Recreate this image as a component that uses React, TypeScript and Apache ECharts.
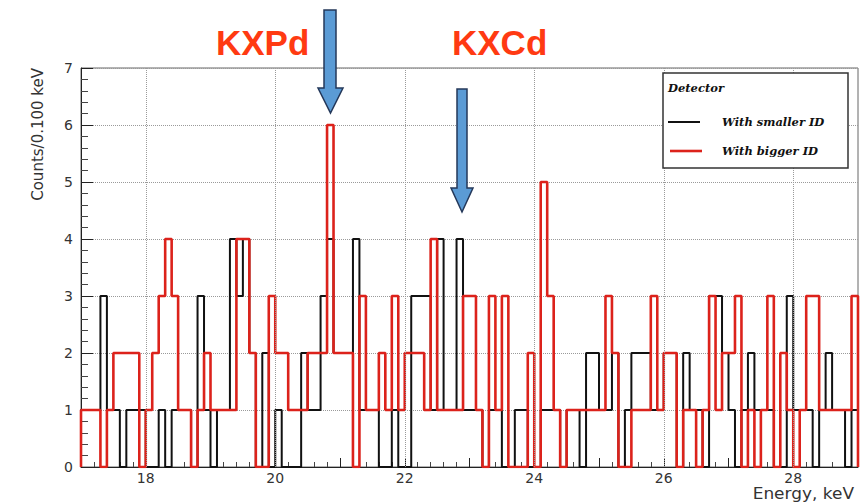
import React, { useEffect, useRef } from "react";
import * as echarts from "echarts";

// Histogram binning (keV)
const binStart = 17.0;
const binWidth = 0.1;

// Counts per 0.1 keV bin, detector with smaller ID (black)
const smallerIdCounts = [
  1, 1, 1, 3, 1, 1, 0, 1, 1, 1,
  0, 0, 1, 0, 1, 1, 1, 0, 3, 1,
  0, 1, 1, 4, 3, 4, 2, 0, 2, 0,
  1, 0, 0, 0, 2, 1, 1, 3, 4, 2,
  2, 2, 4, 1, 1, 1, 0, 0, 1, 0,
  0, 3, 3, 3, 1, 4, 1, 1, 4, 1,
  1, 1, 0, 1, 1, 0, 0, 1, 1, 0,
  0, 1, 1, 1, 0, 1, 1, 0, 2, 2,
  1, 1, 2, 0, 1, 2, 2, 2, 1, 1,
  2, 2, 0, 2, 1, 1, 0, 3, 3, 2,
  1, 0, 1, 2, 1, 1, 1, 0, 0, 3,
  1, 1, 1, 0, 1, 2, 1, 1, 0, 1,
];

// Counts per 0.1 keV bin, detector with bigger ID (red)
const biggerIdCounts = [
  1, 1, 1, 0, 1, 2, 2, 2, 2, 0,
  1, 2, 3, 4, 3, 1, 1, 0, 1, 2,
  1, 1, 1, 1, 4, 4, 2, 0, 0, 3,
  2, 2, 1, 1, 1, 2, 2, 2, 6, 2,
  2, 2, 0, 3, 1, 1, 2, 1, 3, 1,
  2, 2, 2, 1, 4, 1, 1, 1, 1, 3,
  3, 1, 0, 3, 1, 3, 0, 0, 0, 2,
  0, 5, 3, 1, 0, 1, 1, 1, 1, 1,
  1, 3, 2, 0, 0, 1, 1, 1, 3, 1,
  2, 2, 0, 1, 1, 0, 1, 3, 1, 2,
  2, 3, 0, 1, 0, 1, 3, 0, 2, 1,
  0, 1, 3, 3, 1, 1, 1, 1, 1, 3,
];

// Energies carrying a label and a vertical grid line
const energyGrid = [18, 20, 22, 24, 26, 28];

// Outline of a histogram as step points at the bin edges
function stepPoints(counts: number[]): number[][] {
  const pts: number[][] = [[binStart, 0]];
  counts.forEach((c, i) => {
    pts.push([+(binStart + i * binWidth).toFixed(2), c]);
  });
  pts.push([+(binStart + counts.length * binWidth).toFixed(2), 0]);
  return pts;
}

const RED = "#dc221b";
const TITLE_RED = "#ff3a12";
const ARROW_FILL = "#5b9bd5";
const ARROW_STROKE = "#24385a";
const LEGEND_FONT = "italic bold 11.5px 'DejaVu Serif'";

export default function App() {
  const ref = useRef<HTMLDivElement>(null);

  useEffect(() => {
    if (!ref.current) return;
    const chart = echarts.init(ref.current, undefined, { renderer: "svg" });
    const xMax = +(binStart + smallerIdCounts.length * binWidth).toFixed(2);

    chart.setOption({
      animation: false,
      backgroundColor: "#ffffff",
      grid: {
        left: 81,
        right: 4,
        top: 68,
        bottom: 35,
        show: true,
        borderColor: "#666",
        borderWidth: 1,
        backgroundColor: "transparent",
      },
      xAxis: {
        type: "value",
        min: binStart,
        max: xMax,
        interval: 1,
        axisLine: { lineStyle: { color: "#222", width: 1 } },
        axisTick: { inside: true, length: 9, lineStyle: { color: "#222" } },
        minorTick: { show: true, splitNumber: 5, length: 5, lineStyle: { color: "#444" } },
        splitLine: { show: false },
        axisLabel: {
          margin: 4,
          color: "#333",
          fontFamily: "DejaVu Sans",
          fontSize: 14,
          formatter: (v: number) =>
            Math.abs(v - Math.round(v)) < 1e-6 && energyGrid.includes(Math.round(v))
              ? String(Math.round(v))
              : "",
        },
      },
      yAxis: {
        type: "value",
        min: 0,
        max: 7,
        interval: 1,
        axisLine: { show: true, lineStyle: { color: "#222", width: 1 } },
        axisTick: { show: true, inside: true, length: 12, lineStyle: { color: "#222" } },
        minorTick: { show: true, splitNumber: 5, length: 7, lineStyle: { color: "#444" } },
        splitLine: { show: true, lineStyle: { type: "dotted", color: "#9a9a9a", width: 1 } },
        axisLabel: {
          margin: 8,
          color: "#333",
          fontFamily: "DejaVu Sans",
          fontSize: 14,
        },
      },
      series: [
        {
          name: "grid",
          type: "line",
          data: [[binStart, 0]],
          symbol: "none",
          silent: true,
          lineStyle: { opacity: 0 },
          z: 1,
          markLine: {
            silent: true,
            symbol: "none",
            label: { show: false },
            lineStyle: { type: "dotted", color: "#9a9a9a", width: 1 },
            data: energyGrid.map((e) => ({ xAxis: e })),
          },
        },
        {
          name: "With smaller ID",
          type: "line",
          step: "end",
          data: stepPoints(smallerIdCounts),
          symbol: "none",
          lineStyle: { color: "#111", width: 2 },
          z: 2,
        },
        {
          name: "With bigger ID",
          type: "line",
          step: "end",
          data: stepPoints(biggerIdCounts),
          symbol: "none",
          lineStyle: { color: RED, width: 2.6 },
          z: 3,
        },
      ],
      graphic: [
        // axis titles
        {
          type: "text",
          x: 38,
          y: 68,
          rotation: Math.PI / 2,
          style: {
            text: "Counts/0.100 keV",
            font: "15px 'DejaVu Sans'",
            fill: "#333",
            textAlign: "right",
            textVerticalAlign: "middle",
          },
        },
        {
          type: "text",
          x: 854,
          y: 494,
          scaleX: 1.13,
          style: {
            text: "Energy, keV",
            font: "15px 'DejaVu Sans'",
            fill: "#333",
            textAlign: "right",
            textVerticalAlign: "middle",
          },
        },
        // legend box
        {
          type: "rect",
          shape: { x: 663, y: 73, width: 185, height: 95 },
          style: { fill: "#fff", stroke: "#333", lineWidth: 1.5 },
          z: 50,
        },
        {
          type: "text",
          x: 668,
          y: 88,
          z: 51,
          style: {
            text: "Detector",
            font: LEGEND_FONT,
            fill: "#111",
            textAlign: "left",
            textVerticalAlign: "middle",
          },
        },
        {
          type: "line",
          shape: { x1: 668, y1: 122, x2: 700, y2: 122 },
          style: { stroke: "#111", lineWidth: 2 },
          z: 51,
        },
        {
          type: "text",
          x: 722,
          y: 122,
          z: 51,
          style: {
            text: "With smaller ID",
            font: LEGEND_FONT,
            fill: "#111",
            textAlign: "left",
            textVerticalAlign: "middle",
          },
        },
        {
          type: "line",
          shape: { x1: 670, y1: 151, x2: 702, y2: 151 },
          style: { stroke: RED, lineWidth: 2.6 },
          z: 51,
        },
        {
          type: "text",
          x: 722,
          y: 151,
          z: 51,
          style: {
            text: "With bigger ID",
            font: LEGEND_FONT,
            fill: "#111",
            textAlign: "left",
            textVerticalAlign: "middle",
          },
        },
        // peak annotations
        {
          type: "text",
          x: 216,
          y: 42,
          z: 60,
          style: {
            text: "KXPd",
            font: "bold 35px 'Liberation Sans'",
            fill: TITLE_RED,
            textAlign: "left",
            textVerticalAlign: "middle",
          },
        },
        {
          type: "text",
          x: 452,
          y: 42,
          z: 60,
          style: {
            text: "KXCd",
            font: "bold 35px 'Liberation Sans'",
            fill: TITLE_RED,
            textAlign: "left",
            textVerticalAlign: "middle",
          },
        },
        {
          type: "polygon",
          z: 60,
          shape: {
            points: [
              [324, 10], [336, 10], [336, 88], [343, 88], [330.5, 113], [318, 88], [324, 88],
            ],
          },
          style: { fill: ARROW_FILL, stroke: ARROW_STROKE, lineWidth: 1.5 },
        },
        {
          type: "polygon",
          z: 60,
          shape: {
            points: [
              [457, 89], [467, 89], [467, 188], [473, 188], [462, 212], [451, 188], [457, 188],
            ],
          },
          style: { fill: ARROW_FILL, stroke: ARROW_STROKE, lineWidth: 1.5 },
        },
      ],
    });

    return () => chart.dispose();
  }, []);

  return (
    <div
      ref={ref}
      style={{ position: "absolute", left: 0, top: 0, width: 862, height: 502 }}
    />
  );
}
